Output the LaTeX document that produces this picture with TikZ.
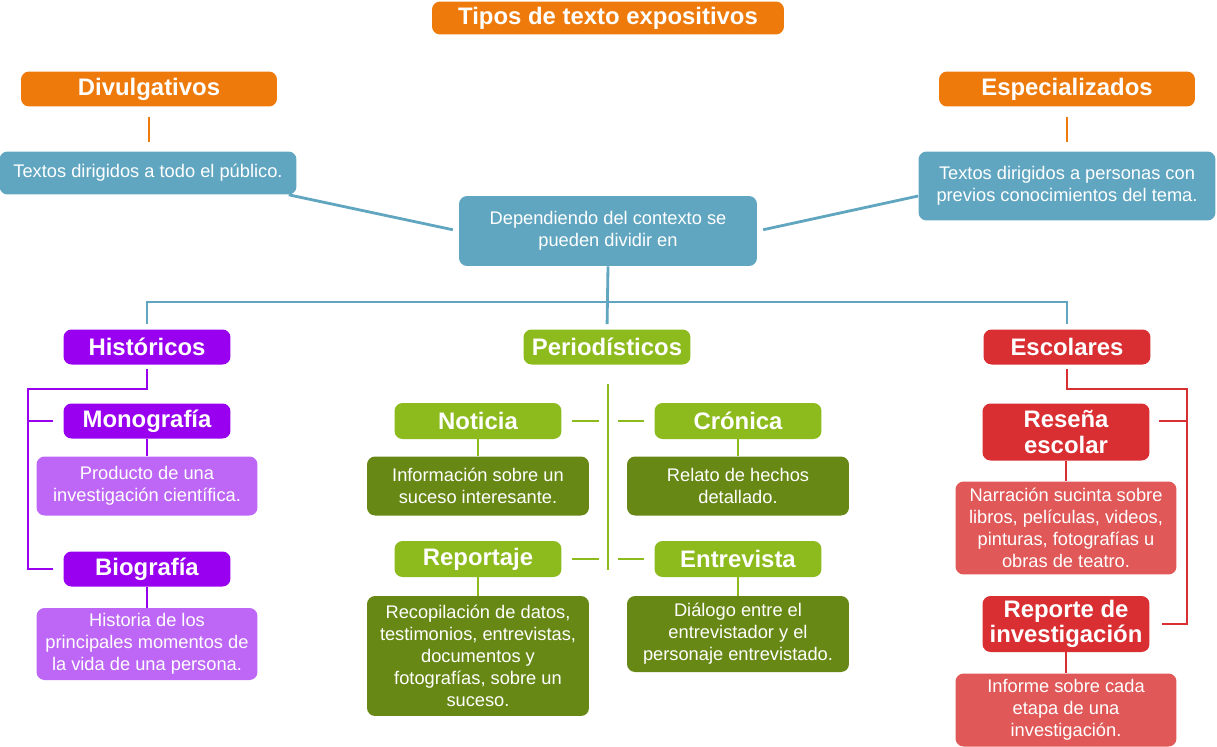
\documentclass[tikz,border=0pt]{standalone}
\usepackage{fontspec}
\setmainfont{Liberation Sans}
\usetikzlibrary{calc}
\definecolor{naranja}{RGB}{238,122,11}
\definecolor{azul}{RGB}{96,166,192}
\definecolor{morado}{RGB}{153,0,240}
\definecolor{moradoclaro}{RGB}{190,102,245}
\definecolor{verde}{RGB}{141,187,30}
\definecolor{verdeosc}{RGB}{104,136,22}
\definecolor{rojo}{RGB}{217,46,50}
\definecolor{rojoclaro}{RGB}{224,88,88}

\begin{document}
\begin{tikzpicture}[x=0.02cm, y=-0.02cm,
        box/.style={rounded corners=0.16cm, text=white, align=center, inner sep=0pt},
        head/.style={box, font=\fontsize{13.6}{14.5}\selectfont\bfseries, minimum width=3.34cm, minimum height=0.70cm},
        desc/.style={box, font=\fontsize{10.4}{12.5}\selectfont, minimum width=4.42cm},
        link/.style={line width=1.6pt}]

        \useasboundingbox (0,0) rectangle (1217,747);

        % Title and the two groups
        \node[head, fill=naranja, minimum width=7.04cm, minimum height=0.66cm] (tipos) at (608,18) {Tipos de texto expositivos};
        \node[head, fill=naranja, minimum width=5.12cm] (divul) at (149,89) {Divulgativos};
        \node[head, fill=naranja, minimum width=5.12cm] (espec) at (1067,89) {Especializados};
        \node[desc, fill=azul, minimum width=5.94cm, minimum height=0.86cm] (pub) at (148,173) {Textos dirigidos a todo el público.};
        \node[desc, fill=azul, minimum width=5.94cm, minimum height=1.38cm] (prev) at (1067,186) {Textos dirigidos a personas con\\previos conocimientos del tema.};
        \node[desc, fill=azul, minimum width=5.96cm, minimum height=1.40cm] (ctx) at (608,231) {Dependiendo del contexto se\\pueden dividir en};

        \draw[link, naranja, shorten <=0.2cm, shorten >=0.18cm] (divul.south) -- (divul.south |- pub.north);
        \draw[link, naranja, shorten <=0.2cm, shorten >=0.18cm] (espec.south) -- (espec.south |- prev.north);
        \draw[link, azul, shorten >=0.12cm] ([xshift=-0.16cm]pub.south east) -- (ctx.west);
        \draw[link, azul, shorten <=0.12cm] (ctx.east) -- ([yshift=-0.2cm]prev.west);

        % Three kinds
        \node[head, fill=morado] (hist) at (147,347) {Históricos};
        \node[head, fill=verde] (perio) at (607,347) {Periodísticos};
        \node[head, fill=rojo] (esc) at (1067,347) {Escolares};

        \coordinate (bus) at (608,302);
        \draw[link, azul, shorten >=0.1cm] (ctx.south) -- (perio.north);
        \draw[link, azul, shorten <=0.1cm, shorten >=0.1cm] (hist.north) |- (bus) -| (esc.north);

        % Historicos
        \node[head, fill=morado] (mono) at (147,421) {Monografía};
        \node[desc, fill=moradoclaro, minimum height=1.18cm] (monotxt) at (147,486) {Producto de una\\investigación científica.};
        \node[head, fill=morado] (bio) at (147,569) {Biografía};
        \node[desc, fill=moradoclaro, minimum height=1.44cm] (biotxt) at (147,644) {Historia de los\\principales momentos de\\la vida de una persona.};

        \coordinate (hcodo) at (28,389);
        \draw[link, morado, shorten <=0.08cm, shorten >=0.2cm] (hist.south) |- (hcodo) |- (bio.west);
        \draw[link, morado, shorten >=0.2cm] (hcodo |- mono.west) -- (mono.west);
        \draw[link, morado] (mono) -- (monotxt);
        \draw[link, morado] (bio) -- (biotxt);

        % Periodisticos
        \node[head, fill=verde, minimum height=0.72cm] (noti) at (478,421) {Noticia};
        \node[head, fill=verde, minimum height=0.72cm] (cron) at (738,421) {Crónica};
        \node[desc, fill=verdeosc, minimum width=4.44cm, minimum height=1.18cm] (notitxt) at (478,486) {Información sobre un\\suceso interesante.};
        \node[desc, fill=verdeosc, minimum width=4.44cm, minimum height=1.18cm] (crontxt) at (738,486) {Relato de hechos\\detallado.};
        \node[head, fill=verde, minimum height=0.72cm] (repo) at (478,559) {Reportaje};
        \node[head, fill=verde, minimum height=0.72cm] (entre) at (738,559) {Entrevista};
        \node[desc, fill=verdeosc, minimum width=4.44cm, minimum height=2.40cm] (repotxt) at (478,656) {Recopilación de datos,\\testimonios, entrevistas,\\documentos y\\fotografías, sobre un\\suceso.};
        \node[desc, fill=verdeosc, minimum width=4.44cm, minimum height=1.52cm] (entretxt) at (738,634) {Diálogo entre el\\entrevistador y el\\personaje entrevistado.};

        \coordinate (pfin) at (608,570);
        \draw[link, verde, shorten <=0.38cm] (perio.south -| pfin) -- (pfin);
        \foreach \n/\a in {noti/east, repo/east, cron/west, entre/west}
          \draw[link, verde, shorten <=0.2cm, shorten >=0.19cm] (\n.\a) -- (\n.\a -| pfin);
        \draw[link, verde] (noti) -- (notitxt);
        \draw[link, verde] (cron) -- (crontxt);
        \draw[link, verde] (repo) -- (repotxt);
        \draw[link, verde] (entre) -- (entretxt);

        % Escolares
        \node[head, fill=rojo, minimum height=1.14cm] (resena) at (1066,432) {Reseña\\escolar};
        \node[desc, fill=rojoclaro, minimum height=1.86cm] (resenatxt) at (1066,528) {Narración sucinta sobre\\libros, películas, videos,\\pinturas, fotografías u\\obras de teatro.};
        \node[head, fill=rojo, minimum height=1.12cm] (reporte) at (1066,624) {Reporte de\\investigación};
        \node[desc, fill=rojoclaro, minimum height=1.46cm] (reportetxt) at (1066,710) {Informe sobre cada\\etapa de una\\investigación.};

        \coordinate (ecodo) at (1187,389);
        \coordinate (resrama) at ([yshift=0.22cm]resena.east);
        \draw[link, rojo, shorten <=0.08cm, shorten >=0.24cm] (esc.south) |- (ecodo) |- (reporte.east);
        \draw[link, rojo, shorten >=0.18cm] (ecodo |- resrama) -- (resrama);
        \draw[link, rojo] (resena) -- (resenatxt);
        \draw[link, rojo] (reporte) -- (reportetxt);

    \end{tikzpicture}
\end{document}
